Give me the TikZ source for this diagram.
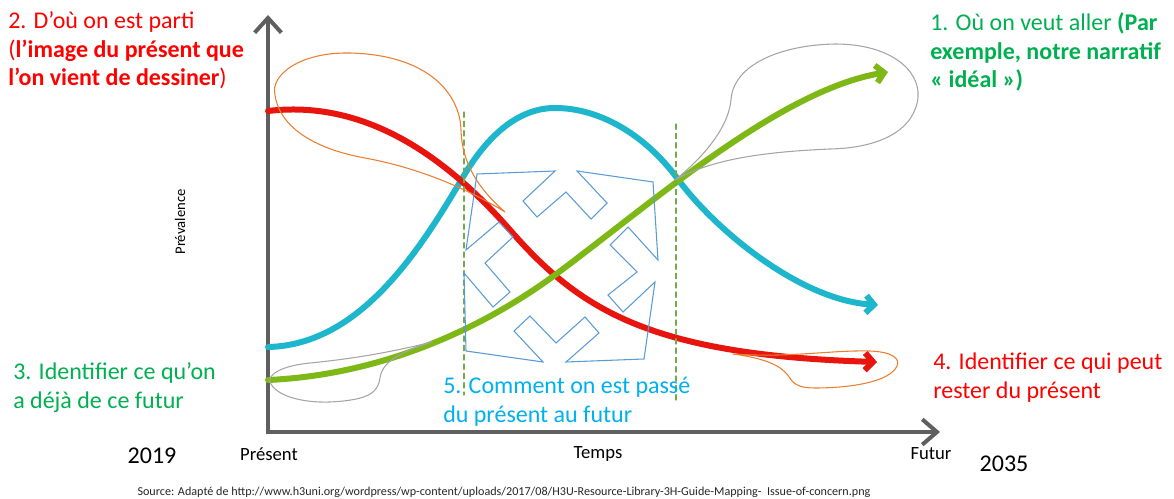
\documentclass[tikz,border=0pt]{standalone}
\usepackage{fontspec}
\setmainfont{Carlito}
\usepackage{tikz}
\usetikzlibrary{arrows.meta}
\definecolor{labred}{HTML}{FF0000}
\definecolor{labgreen}{HTML}{00B050}
\definecolor{labblue}{HTML}{00B0F0}
\definecolor{axisgray}{HTML}{5F5F5F}
\definecolor{trendred}{HTML}{E8140E}
\definecolor{trendcyan}{HTML}{1EB6CC}
\definecolor{trendgreen}{HTML}{7DB817}
\definecolor{bubbleorange}{HTML}{ED7D31}
\definecolor{bubblegray}{HTML}{A5A5A5}
\definecolor{phasegreen}{HTML}{70AD47}
\definecolor{hubblue}{HTML}{5B9BD5}
\tikzset{
every picture/.style={line cap=round,line join=round},
axis line/.style={
  draw=axisgray,
  line width=3pt,
  line join=miter,
  {Straight Barb[length=11pt,width=20pt]}-{Straight Barb[length=11pt,width=19pt]}
},
trend curve/.style={line width=4.5pt, -{Straight Barb[length=6pt,width=13pt]}},
red trend/.style={trend curve, draw=trendred},
cyan trend/.style={trend curve, draw=trendcyan},
green trend/.style={trend curve, draw=trendgreen},
phase line/.style={draw=phasegreen, line width=0.9pt, dash pattern=on 4pt off 3pt},
orange bubble/.style={draw=bubbleorange, line width=0.8pt},
gray bubble/.style={draw=bubblegray, line width=0.8pt},
hub outline/.style={draw=hubblue, line width=0.8pt, line join=miter},
big label/.style={font=\fontsize{18}{21.5}\selectfont, align=left, inner sep=0pt, anchor=base west},
axis label/.style={font=\fontsize{14}{16}\selectfont, inner sep=0pt},
year label/.style={font=\fontsize{18}{20}\selectfont, inner sep=0pt},
source label/.style={font=\fontsize{9.1}{10}\selectfont, text=black!85, inner sep=0pt}
}
\begin{document}
\begin{tikzpicture}[x=0.75pt,y=-0.75pt]
\useasboundingbox (0,0) rectangle (1174,499);
% axes
\coordinate (origin) at (268,432);
\coordinate (ytop) at (268,15);
\coordinate (xend) at (940,432);
\draw[axis line] (ytop) -- (origin) -- (xend);
% trends
\draw[cyan trend] (268,347) .. controls (360,345) and (420,250) .. (463,177)
  .. controls (489,133) and (520,108) .. (555,108)
  .. controls (600,108) and (645,135) .. (677,178)
  .. controls (715,230) and (800,300) .. (878,305);
\draw[red trend] (268,111) .. controls (360,100) and (440,150) .. (510,230)
  .. controls (580,310) and (650,355) .. (877,362);
\draw[green trend] (268,380) .. controls (380,375) and (480,330) .. (555,275)
  .. controls (652,203) and (780,90) .. (888,72);
% transition window
\draw[phase line] (464,112) -- (464,395);
\draw[phase line] (676,124) -- (676,402);
% bubbles
\draw[orange bubble] (505,212) .. controls (480,190) and (462,165) .. (461,130)
  .. controls (460,95) and (430,55) .. (350,53)
  .. controls (300,52) and (270,75) .. (275,95)
  .. controls (280,130) and (320,150) .. (365,158)
  .. controls (420,168) and (470,190) .. (505,212) -- cycle;
\draw[orange bubble] (733,354) .. controls (790,358) and (830,350) .. (870,351)
  .. controls (895,352) and (900,360) .. (897,366)
  .. controls (890,382) and (850,388) .. (815,388)
  .. controls (790,388) and (792,378) .. (785,372)
  .. controls (775,362) and (755,357) .. (733,354) -- cycle;
\draw[gray bubble] (675,180) .. controls (700,160) and (728,130) .. (731,100)
  .. controls (733,65) and (780,45) .. (835,44)
  .. controls (890,44) and (920,70) .. (918,97)
  .. controls (915,130) and (880,148) .. (830,149)
  .. controls (760,152) and (710,160) .. (675,180) -- cycle;
\draw[gray bubble] (432,342) .. controls (380,355) and (340,360) .. (310,363)
  .. controls (280,366) and (268,375) .. (270,382)
  .. controls (275,395) and (300,403) .. (330,402)
  .. controls (370,400) and (378,392) .. (380,378)
  .. controls (382,362) and (400,352) .. (432,342) -- cycle;
% converging arrows
\draw[hub outline] (477,174) -- (555,171) -- (523,201) -- (537,217) -- (566,192)
  -- (591,219) -- (607,203) -- (577,171) -- (653,182) -- (658,260)
  -- (628,227) -- (610,245) -- (637,272) -- (608,295) -- (623,312)
  -- (655,282) -- (644,359) -- (566,362) -- (599,333) -- (585,317)
  -- (556,343) -- (530,316) -- (514,331) -- (543,362) -- (466,351)
  -- (464,273) -- (493,307) -- (510,292) -- (485,263) -- (513,237)
  -- (499,222) -- (466,250) -- cycle;
% labels
\node[big label, text=labred] (past txt) at (8,86)
  {2. D’où on est parti\\(\textbf{l’image du présent que}\\\textbf{l’on vient de dessiner})};
\node[big label, text=labgreen] (goal txt) at (930,88)
  {1. Où on veut aller \textbf{(Par}\\\textbf{exemple, notre narratif}\\\textbf{« idéal »)}};
\node[big label, text=labgreen] (seed txt) at (13,408) {3. Identifier ce qu’on\\a déjà de ce futur};
\node[big label, text=labred] (keep txt) at (933,398) {4. Identifier ce qui peut\\rester du présent};
\node[big label, text=labblue] (shift txt) at (443,422) {5. Comment on est passé\\du présent au futur};
\node[font=\fontsize{11}{13}\selectfont, inner sep=0pt, rotate=90] (prev txt) at (180,222) {Prévalence};
\node[axis label] (present txt) at (269,454) {Présent};
\node[axis label] (time txt) at (598,454) {Temps};
\node[axis label] (future txt) at (931,454) {Futur};
\node[year label] (start year) at (152,456) {2019};
\node[year label] (end year) at (1004,464) {2035};
\node[source label] (source txt) at (504,492)
  {Source: Adapté de http://www.h3uni.org/wordpress/wp-content/uploads/2017/08/H3U-Resource-Library-3H-Guide-Mapping-\ \ Issue-of-concern.png};
\end{tikzpicture}
\end{document}
